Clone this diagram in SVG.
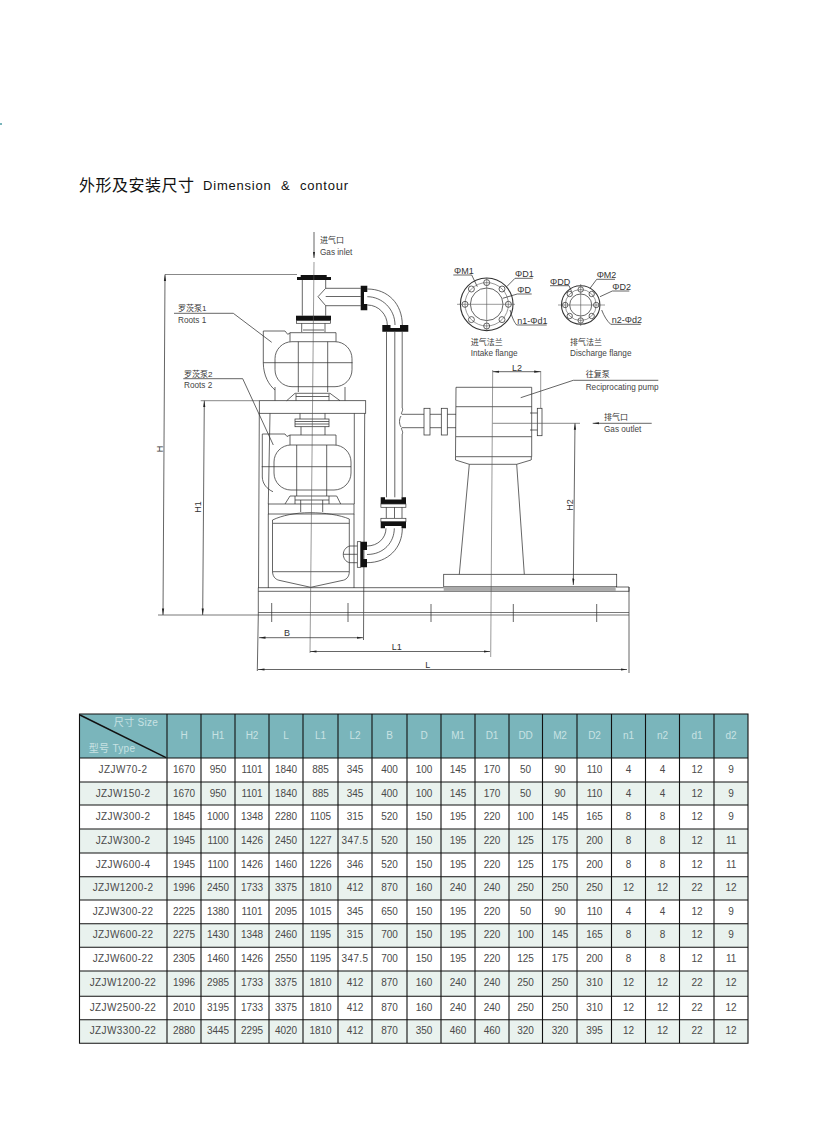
<svg xmlns="http://www.w3.org/2000/svg" width="827" height="1122" viewBox="0 0 827 1122">
<style>
text{font-family:"Liberation Sans","Noto Sans CJK SC",sans-serif;fill:#333}
.l{fill:none;stroke:#333;stroke-width:.75}
.t{fill:none;stroke:#222;stroke-width:1}
.g{fill:none;stroke:#555;stroke-width:.6}
.k{fill:#111;stroke:none}
.w{fill:#fff;stroke:#333;stroke-width:.7}
.s{font-size:8.2px;fill:#444}
.c{font-size:8px;fill:#333}
.m{font-size:9px;fill:#333}
.tb text{font-size:10px;text-anchor:middle;letter-spacing:-.1px;fill:#4a4a4a}
.tb text.n{letter-spacing:.4px}
.tb .h text{fill:#c8e2e3}
.grid{fill:none;stroke:#111;stroke-width:1.1}
</style>
<defs>
<marker id="a" markerUnits="userSpaceOnUse" markerWidth="7" markerHeight="4" refX="6.5" refY="2" orient="auto-start-reverse"><path d="M0 .9L6.5 2L0 3.1z" fill="#222"/></marker>
</defs>
<rect width="827" height="1122" fill="#fff"/>
<rect x="0" y="123" width="2" height="2" fill="#7ab5bb"/>
<g id="title">
<text x="79" y="191" font-size="16" style="fill:#111" textLength="115">外形及安装尺寸</text>
<text x="203" y="189.500" font-size="13" style="fill:#111;letter-spacing:.8px;word-spacing:5px">Dimension &amp; contour</text>
</g>
<g id="pump-1">
<path class="l" d="M263.3 331H285L287.7 334.3L290 333M263.3 331V363C263.5 376 269 385 275 390"/>
<path class="l" d="M290 332.700H336V341.700M290 332.700V341.700"/>
<rect class="l" x="275" y="341.700" width="77" height="45" rx="17"/>
<path class="l" d="M263.300 362.700H352.500M298.300 341.700V392M327.700 341.700V392M275 387V400.700M345 387V400.700"/>
<path class="l" d="M286.700 400.700L295 393.300H330L340 400.700M296 394V400.700M329 394V400.700M296 396.500H329"/>
</g>
<g id="inlet-pipe">
<path class="k" d="M297 277H300.700V275H326.700V277H331V280H297z"/>
<path class="l" d="M302.300 280V315.700M325.700 280V288.300M325.700 305.700V315.700"/>
<path class="l" d="M325.700 288.300H360.700M325.700 305.700H360.700M325.700 296.500H360.700M325.700 288.300L318 296.700L325.700 305.700"/>
<rect class="k" x="296" y="315.700" width="35" height="5"/>
<rect class="w" x="296.500" y="320.700" width="34" height="2.600"/>
<path class="l" d="M301.700 323.300V332M325 323.300V332M303 330H324"/>
<path class="k" d="M360.700 285.700H367.300V292H364V304H367.300V310.300H360.700z"/>
<path class="l" d="M367.300 289C388 289 402.300 304 402.300 325M367.300 296.700C382 296.700 395 309 395 325M367.300 305C379 305 387.300 315 387.300 325"/>
<path class="k" d="M382.300 325H390.500V328H400V325H408.300V331.700H382.300z"/>
<path class="l" d="M386.500 331.700V497.300M394.800 331.700V497.300M402.200 331.700V408M402.200 434V497.300"/>
</g>
<g id="frame">
<rect class="l" x="259.300" y="400.700" width="106.400" height="12.600"/>
<path class="l" d="M259.300 413.300L258.500 588M270 413.300L268.300 504M354.300 413.300V504M364.700 413.300L363.500 640"/>
<rect class="l" x="268.300" y="504" width="85.700" height="10"/>
<path class="l" d="M268.300 514V588M354 514V588"/>
</g>
<g id="pump-2">
<path class="l" d="M300 413.300V419M325 413.300V419M301 426.700V435M325 426.700V435"/>
<rect class="l" x="295" y="419" width="34" height="7.700"/>
<path class="l" d="M295 421.500H329M295 424H329"/>
<path class="l" d="M262.300 434H285L287 436.500L290 435M262.300 434V477C262.500 484 267 489 273 491.700"/>
<path class="l" d="M290 435H336V445M290 435V445"/>
<rect class="l" x="274" y="445" width="77" height="45" rx="17"/>
<path class="l" d="M261.700 466.700H351M296.700 445V496M326.700 445V496"/>
<path class="l" d="M285 504L290 496H336.700L340.700 504M295 496V504M329 496V504M295 500H329M300.700 500V512M322.700 500V512"/>
</g>
<g id="tank">
<path class="l" d="M272.500 523V571.700C272.800 578 277 580 280 580.500L310.700 587.300L342 580.500C346 580 349.300 577 349.300 571.700V519C340 515 325 512.700 310 512.700C295 512.700 282 515.500 272.500 520V523"/>
<path class="l" d="M273 523.300H349.300M272.500 571.700H349.300"/>
</g>
<g id="return-pipe">
<path class="k" d="M380.700 497.300H385V499.500H401.500V497.300H406V504H380.700z"/>
<rect class="w" x="380.900" y="504" width="25" height="3.300"/>
<path class="l" d="M386.300 507.300V518.300M394.500 507.300V518.300M402 507.300V518.300"/>
<rect class="w" x="380.900" y="518.300" width="25" height="3.400"/>
<path class="k" d="M380.700 521.700H406V528.300H401.500V526H385V528.300H380.700z"/>
<path class="l" d="M367 546C378 546 386 538 386 528.300M367 554.500C384 554.500 394.300 542 394.300 528.300M367 562.700C388 562.700 402.300 548 402.300 528.300"/>
<path class="l" d="M358 546H349.800C345.500 547 343.300 551 343.300 554.300C343.300 558 345.500 562 349.800 562.700H358M343.300 554.300H358"/>
<rect class="w" x="357.300" y="541.700" width="3.400" height="25.600"/>
<path class="k" d="M360.700 541.700H367V550H363.500V559H367V567.300H360.700z"/>
</g>
<g id="reciprocating-pump">
<path class="l" d="M402.200 408C404 410 400 414 402 414.300H424M402.200 434C404 432 400 428 402 427.700H424M401 416C399 419 399 424 401 427"/>
<path class="l" d="M430 414.300H441.300M430 427.700H441.300M447.300 414.300H456M447.300 427.700H456"/>
<rect class="l" x="424" y="408.300" width="6" height="26.700"/>
<rect class="l" x="441.300" y="408.300" width="6" height="26.700"/>
<path class="l" d="M456 387.300H531.700V456.700H455.500zM456 406.700H531.700M456 436.700H531.700"/>
<path class="l" d="M455.500 460L469.300 464.300H516.700L531 460M455.500 456.700V460M531.300 456.700V460"/>
<path class="l" d="M530 413H537.300M530 430H537.300"/>
<rect class="l" x="537.300" y="408.300" width="4.700" height="27.400"/>
<path class="l" d="M469.300 464.300L459.300 574.300M516.700 464.300L524.300 574.300"/>
<rect class="l" x="443.700" y="574.300" width="173" height="12.400"/>
<rect x="443.700" y="586.700" width="172" height="4" fill="#aaa"/>
</g>
<g id="base">
<path class="l" d="M258.300 587.700H443.700M616 587H629V591.700M258.300 591.300H629"/>
<path class="g" d="M258.300 612.500H629M158 615H629" style="stroke-width:.8"/>
<path class="l" d="M258.300 587.700V615M629 587V673M271.700 603V622M348 603V622M431 604V622M513.300 604V622M596.700 604V622"/>
<path class="l" d="M258.300 615L257.300 671"/>
</g>
<g id="flange-intake">
<circle class="l" cx="486.700" cy="304.300" r="26.300" style="stroke-width:1.100"/>
<circle class="g" cx="486.700" cy="304.300" r="21.700"/>
<circle class="l" cx="486.700" cy="304.300" r="16.300"/>
<circle class="l" cx="486.700" cy="282.600" r="3"/><circle class="l" cx="486.700" cy="326" r="3"/>
<circle class="l" cx="465" cy="304.300" r="3"/><circle class="l" cx="508.400" cy="304.300" r="3"/>
<circle class="l" cx="471.400" cy="289" r="3"/><circle class="l" cx="502" cy="289" r="3"/>
<circle class="l" cx="471.400" cy="319.600" r="3"/><circle class="l" cx="502" cy="319.600" r="3"/>
<path class="g" d="M486.700 278V331M457 304.300H515"/>
</g>
<g id="flange-discharge">
<circle class="l" cx="580.700" cy="305" r="19.200" style="stroke-width:1.100"/>
<circle class="g" cx="580.700" cy="305" r="15.500"/>
<circle class="l" cx="580.700" cy="305" r="11"/>
<circle class="l" cx="580.700" cy="289.500" r="2.700"/><circle class="l" cx="580.700" cy="320.500" r="2.700"/>
<circle class="l" cx="565.200" cy="305" r="2.700"/><circle class="l" cx="596.200" cy="305" r="2.700"/>
<circle class="l" cx="569.700" cy="294" r="2.700"/><circle class="l" cx="591.700" cy="294" r="2.700"/>
<circle class="l" cx="569.700" cy="316" r="2.700"/><circle class="l" cx="591.700" cy="316" r="2.700"/>
<path class="g" d="M580.700 284V326M558 305H605"/>
</g>
<g id="connectors">
<path class="l" d="M314 232V258" marker-end="url(#a)"/>
<path class="g" d="M314 262L310 653M492.700 370L490.700 657M540.700 371V408"/>
<path class="g" d="M165 274.500H297M200.700 400.700H259M492.700 423.300H580" style="stroke-width:.7"/>
<path class="l" d="M165 274.500L163 615" marker-start="url(#a)" marker-end="url(#a)"/>
<path class="l" d="M204.300 400.700L202.700 615" marker-start="url(#a)" marker-end="url(#a)"/>
<path class="l" d="M575 423.300L573.300 585" marker-start="url(#a)" marker-end="url(#a)"/>
<path class="l" d="M651.700 423.300H592.700" marker-end="url(#a)"/>
<path class="l" d="M259 637.700H363" marker-start="url(#a)" marker-end="url(#a)"/>
<path class="l" d="M310 651.500H490" marker-start="url(#a)" marker-end="url(#a)"/>
<path class="l" d="M258 669.500H627" marker-start="url(#a)" marker-end="url(#a)"/>
<path class="l" d="M492.700 371.700H540.700" marker-start="url(#a)" marker-end="url(#a)"/>
<path class="l" d="M174 313.300H233.300L271.700 342.300M183.300 378.700H242.700L273.300 445M658.300 380.300H573.300L520.700 397.700"/>
<path class="l" d="M453.300 275H471.700L477.300 286.700M532.700 278.300H515L506.700 286.700M531.700 294H517.300L502.700 298.300M546.700 325H516.700C514 322 512 317 510 310"/>
<path class="l" d="M550 285.700H569L571.700 291.700M615 279.300H596.700L590 288.300M629.300 291H612.300L600 296.700M640.700 324.300H610.700C607 321 604 316 601.700 310"/>
</g>
<g id="labels">
<text class="c" x="320" y="243">进气口</text><text class="s" x="320" y="254.500">Gas inlet</text>
<text class="c" x="178" y="311">罗茨泵1</text><text class="s" x="178" y="322.500">Roots 1</text>
<text class="c" x="184" y="377">罗茨泵2</text><text class="s" x="184" y="388">Roots 2</text>
<text class="c" x="585.700" y="377">往复泵</text><text class="s" x="585.700" y="390">Reciprocating pump</text>
<text class="c" x="604" y="419.500">排气口</text><text class="s" x="604" y="431.500">Gas outlet</text>
<text class="c" x="470.700" y="344.500">进气法兰</text><text class="s" x="470.700" y="356">Intake flange</text>
<text class="c" x="570" y="344.500">排气法兰</text><text class="s" x="570" y="356">Discharge flange</text>
<text class="m" x="454" y="274">ΦM1</text><text class="m" x="515" y="277">ΦD1</text><text class="m" x="517.300" y="292.500">ΦD</text><text class="m" x="517.300" y="324">n1-Φd1</text>
<text class="m" x="550" y="284.500">ΦDD</text><text class="m" x="596.700" y="278">ΦM2</text><text class="m" x="612.300" y="289.500">ΦD2</text><text class="m" x="611.700" y="323">n2-Φd2</text>
<text class="m" x="517" y="371" text-anchor="middle">L2</text>
<text class="m" x="287" y="636" text-anchor="middle">B</text>
<text class="m" x="396.700" y="650" text-anchor="middle">L1</text>
<text class="m" x="427.700" y="668" text-anchor="middle">L</text>
<text class="m" text-anchor="middle" transform="translate(162.500 449) rotate(-90)">H</text>
<text class="m" text-anchor="middle" transform="translate(200.500 507) rotate(-90)">H1</text>
<text class="m" text-anchor="middle" transform="translate(573 505) rotate(-90)">H2</text>
</g>
<g id="table" class="tb">
<rect x="79.500" y="714" width="668.500" height="44" fill="#7ab5bb"/>
<rect x="79.500" y="782" width="668.500" height="23" fill="#e9f2ee"/>
<rect x="79.500" y="829" width="668.500" height="24" fill="#e9f2ee"/>
<rect x="79.500" y="877" width="668.500" height="23" fill="#e9f2ee"/>
<rect x="79.500" y="924" width="668.500" height="23" fill="#e9f2ee"/>
<rect x="79.500" y="971" width="668.500" height="25" fill="#e9f2ee"/>
<rect x="79.500" y="1020" width="668.500" height="23" fill="#e9f2ee"/>
<path class="grid" d="M79.500 714H748V1043.300H79.500zM79.500 758H748M79.500 782H748M79.500 805H748M79.500 829H748M79.500 853H748M79.500 876.700H748M79.500 900H748M79.500 923.700H748M79.500 947.300H748M79.500 971H748M79.500 996.300H748M79.500 1019.700H748M167 714V1043.300M201 714V1043.300M235 714V1043.300M269 714V1043.300M303 714V1043.300M338 714V1043.300M372 714V1043.300M407 714V1043.300M441 714V1043.300M475 714V1043.300M509 714V1043.300M542.500 714V1043.300M577 714V1043.300M611.500 714V1043.300M645.500 714V1043.300M679.500 714V1043.300M714 714V1043.300"/>
<path d="M80 715L166 757.700" stroke="#111" stroke-width="1.500"/>
<g class="h">
<text x="136" y="725.500" style="letter-spacing:.3px">尺寸 Size</text><text x="112" y="752" style="letter-spacing:.3px">型号 Type</text>
<text x="184" y="738.500">H</text><text x="218" y="738.500">H1</text><text x="252" y="738.500">H2</text><text x="286" y="738.500">L</text><text x="320.500" y="738.500">L1</text><text x="355" y="738.500">L2</text><text x="389.500" y="738.500">B</text><text x="424" y="738.500">D</text><text x="458" y="738.500">M1</text><text x="492" y="738.500">D1</text><text x="525.500" y="738.500">DD</text><text x="560" y="738.500">M2</text><text x="594.500" y="738.500">D2</text><text x="628.500" y="738.500">n1</text><text x="662.500" y="738.500">n2</text><text x="697" y="738.500">d1</text><text x="731" y="738.500">d2</text>
</g>
<g id="row-1" transform="translate(0 773)"><text class="n" x="123" y="0">JZJW70-2</text><text x="184" y="0">1670</text><text x="218" y="0">950</text><text x="252" y="0">1101</text><text x="286" y="0">1840</text><text x="320.500" y="0">885</text><text x="355" y="0">345</text><text x="389.500" y="0">400</text><text x="424" y="0">100</text><text x="458" y="0">145</text><text x="492" y="0">170</text><text x="525.500" y="0">50</text><text x="560" y="0">90</text><text x="594.500" y="0">110</text><text x="628.500" y="0">4</text><text x="662.500" y="0">4</text><text x="697" y="0">12</text><text x="731" y="0">9</text></g>
<g id="row-2" transform="translate(0 796.500)"><text class="n" x="123" y="0">JZJW150-2</text><text x="184" y="0">1670</text><text x="218" y="0">950</text><text x="252" y="0">1101</text><text x="286" y="0">1840</text><text x="320.500" y="0">885</text><text x="355" y="0">345</text><text x="389.500" y="0">400</text><text x="424" y="0">100</text><text x="458" y="0">145</text><text x="492" y="0">170</text><text x="525.500" y="0">50</text><text x="560" y="0">90</text><text x="594.500" y="0">110</text><text x="628.500" y="0">4</text><text x="662.500" y="0">4</text><text x="697" y="0">12</text><text x="731" y="0">9</text></g>
<g id="row-3" transform="translate(0 820)"><text class="n" x="123" y="0">JZJW300-2</text><text x="184" y="0">1845</text><text x="218" y="0">1000</text><text x="252" y="0">1348</text><text x="286" y="0">2280</text><text x="320.500" y="0">1105</text><text x="355" y="0">315</text><text x="389.500" y="0">520</text><text x="424" y="0">150</text><text x="458" y="0">195</text><text x="492" y="0">220</text><text x="525.500" y="0">100</text><text x="560" y="0">145</text><text x="594.500" y="0">165</text><text x="628.500" y="0">8</text><text x="662.500" y="0">8</text><text x="697" y="0">12</text><text x="731" y="0">9</text></g>
<g id="row-4" transform="translate(0 844)"><text class="n" x="123" y="0">JZJW300-2</text><text x="184" y="0">1945</text><text x="218" y="0">1100</text><text x="252" y="0">1426</text><text x="286" y="0">2450</text><text x="320.500" y="0">1227</text><text x="355" y="0" style="letter-spacing:.4px">347.5</text><text x="389.500" y="0">520</text><text x="424" y="0">150</text><text x="458" y="0">195</text><text x="492" y="0">220</text><text x="525.500" y="0">125</text><text x="560" y="0">175</text><text x="594.500" y="0">200</text><text x="628.500" y="0">8</text><text x="662.500" y="0">8</text><text x="697" y="0">12</text><text x="731" y="0">11</text></g>
<g id="row-5" transform="translate(0 868)"><text class="n" x="123" y="0">JZJW600-4</text><text x="184" y="0">1945</text><text x="218" y="0">1100</text><text x="252" y="0">1426</text><text x="286" y="0">1460</text><text x="320.500" y="0">1226</text><text x="355" y="0">346</text><text x="389.500" y="0">520</text><text x="424" y="0">150</text><text x="458" y="0">195</text><text x="492" y="0">220</text><text x="525.500" y="0">125</text><text x="560" y="0">175</text><text x="594.500" y="0">200</text><text x="628.500" y="0">8</text><text x="662.500" y="0">8</text><text x="697" y="0">12</text><text x="731" y="0">11</text></g>
<g id="row-6" transform="translate(0 891)"><text class="n" x="123" y="0">JZJW1200-2</text><text x="184" y="0">1996</text><text x="218" y="0">2450</text><text x="252" y="0">1733</text><text x="286" y="0">3375</text><text x="320.500" y="0">1810</text><text x="355" y="0">412</text><text x="389.500" y="0">870</text><text x="424" y="0">160</text><text x="458" y="0">240</text><text x="492" y="0">240</text><text x="525.500" y="0">250</text><text x="560" y="0">250</text><text x="594.500" y="0">250</text><text x="628.500" y="0">12</text><text x="662.500" y="0">12</text><text x="697" y="0">22</text><text x="731" y="0">12</text></g>
<g id="row-7" transform="translate(0 915)"><text class="n" x="123" y="0">JZJW300-22</text><text x="184" y="0">2225</text><text x="218" y="0">1380</text><text x="252" y="0">1101</text><text x="286" y="0">2095</text><text x="320.500" y="0">1015</text><text x="355" y="0">345</text><text x="389.500" y="0">650</text><text x="424" y="0">150</text><text x="458" y="0">195</text><text x="492" y="0">220</text><text x="525.500" y="0">50</text><text x="560" y="0">90</text><text x="594.500" y="0">110</text><text x="628.500" y="0">4</text><text x="662.500" y="0">4</text><text x="697" y="0">12</text><text x="731" y="0">9</text></g>
<g id="row-8" transform="translate(0 938)"><text class="n" x="123" y="0">JZJW600-22</text><text x="184" y="0">2275</text><text x="218" y="0">1430</text><text x="252" y="0">1348</text><text x="286" y="0">2460</text><text x="320.500" y="0">1195</text><text x="355" y="0">315</text><text x="389.500" y="0">700</text><text x="424" y="0">150</text><text x="458" y="0">195</text><text x="492" y="0">220</text><text x="525.500" y="0">100</text><text x="560" y="0">145</text><text x="594.500" y="0">165</text><text x="628.500" y="0">8</text><text x="662.500" y="0">8</text><text x="697" y="0">12</text><text x="731" y="0">9</text></g>
<g id="row-9" transform="translate(0 962)"><text class="n" x="123" y="0">JZJW600-22</text><text x="184" y="0">2305</text><text x="218" y="0">1460</text><text x="252" y="0">1426</text><text x="286" y="0">2550</text><text x="320.500" y="0">1195</text><text x="355" y="0" style="letter-spacing:.4px">347.5</text><text x="389.500" y="0">700</text><text x="424" y="0">150</text><text x="458" y="0">195</text><text x="492" y="0">220</text><text x="525.500" y="0">125</text><text x="560" y="0">175</text><text x="594.500" y="0">200</text><text x="628.500" y="0">8</text><text x="662.500" y="0">8</text><text x="697" y="0">12</text><text x="731" y="0">11</text></g>
<g id="row-10" transform="translate(0 986)"><text class="n" x="123" y="0">JZJW1200-22</text><text x="184" y="0">1996</text><text x="218" y="0">2985</text><text x="252" y="0">1733</text><text x="286" y="0">3375</text><text x="320.500" y="0">1810</text><text x="355" y="0">412</text><text x="389.500" y="0">870</text><text x="424" y="0">160</text><text x="458" y="0">240</text><text x="492" y="0">240</text><text x="525.500" y="0">250</text><text x="560" y="0">250</text><text x="594.500" y="0">310</text><text x="628.500" y="0">12</text><text x="662.500" y="0">12</text><text x="697" y="0">22</text><text x="731" y="0">12</text></g>
<g id="row-11" transform="translate(0 1011)"><text class="n" x="123" y="0">JZJW2500-22</text><text x="184" y="0">2010</text><text x="218" y="0">3195</text><text x="252" y="0">1733</text><text x="286" y="0">3375</text><text x="320.500" y="0">1810</text><text x="355" y="0">412</text><text x="389.500" y="0">870</text><text x="424" y="0">160</text><text x="458" y="0">240</text><text x="492" y="0">240</text><text x="525.500" y="0">250</text><text x="560" y="0">250</text><text x="594.500" y="0">310</text><text x="628.500" y="0">12</text><text x="662.500" y="0">12</text><text x="697" y="0">22</text><text x="731" y="0">12</text></g>
<g id="row-12" transform="translate(0 1034)"><text class="n" x="123" y="0">JZJW3300-22</text><text x="184" y="0">2880</text><text x="218" y="0">3445</text><text x="252" y="0">2295</text><text x="286" y="0">4020</text><text x="320.500" y="0">1810</text><text x="355" y="0">412</text><text x="389.500" y="0">870</text><text x="424" y="0">350</text><text x="458" y="0">460</text><text x="492" y="0">460</text><text x="525.500" y="0">320</text><text x="560" y="0">320</text><text x="594.500" y="0">395</text><text x="628.500" y="0">12</text><text x="662.500" y="0">12</text><text x="697" y="0">22</text><text x="731" y="0">12</text></g>
</g>
</svg>
